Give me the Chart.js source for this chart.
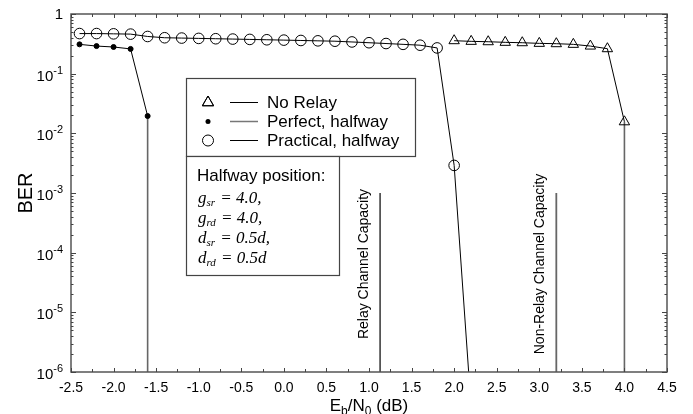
<!DOCTYPE html>
<html>
<head>
<meta charset="utf-8">
<script src="https://cdn.jsdelivr.net/npm/chart.js@4.4.0/dist/chart.umd.min.js"></script>
<style>
  html, body { margin: 0; padding: 0; background: #fff; }
</style>
</head>
<body>
<canvas id="ber-chart" width="693" height="414"></canvas>
<script>
// Dados (Eb/N0 em dB, BER)
const ebnoPractical = [-2.4, -2.2, -2.0, -1.8, -1.6, -1.4, -1.2, -1.0, -0.8, -0.6, -0.4, -0.2,
                       0.0, 0.2, 0.4, 0.6, 0.8, 1.0, 1.2, 1.4, 1.6, 1.8, 2.0, 2.2];
const berPractical = [0.47, 0.47, 0.465, 0.46, 0.42, 0.40, 0.395, 0.39, 0.385, 0.38, 0.375, 0.37,
                      0.365, 0.36, 0.355, 0.35, 0.34, 0.33, 0.32, 0.31, 0.30, 0.27, 0.0029, 2.5e-7];

const ebnoPerfect = [-2.4, -2.2, -2.0, -1.8, -1.6, -1.6];
const berPerfect = [0.31, 0.29, 0.28, 0.26, 0.0195, 1e-9];

const ebnoNoRelay = [2.0, 2.2, 2.4, 2.6, 2.8, 3.0, 3.2, 3.4, 3.6, 3.8, 4.0, 4.0];
const berNoRelay = [0.357, 0.348, 0.343, 0.335, 0.330, 0.322, 0.318, 0.31, 0.29, 0.262, 0.0156, 1e-9];

// Linhas de capacidade
const capacityLabels = ['Relay Channel Capacity', 'Non-Relay Channel Capacity'];
const capacityEbno = [1.13, 3.2];
const capacityBerTop = 1e-3;
const capacityBerBottom = 1e-6;

// Eixos
const xTickValues = [-2.5, -2.0, -1.5, -1.0, -0.5, 0.0, 0.5, 1.0, 1.5, 2.0, 2.5, 3.0, 3.5, 4.0, 4.5];
const yTickExponents = [0, -1, -2, -3, -4, -5, -6];

const legendLabels = ['No Relay', 'Perfect, halfway', 'Practical, halfway'];
const positionLines = [
    ['g', 'sr', ' = 4.0,'],
    ['g', 'rd', ' = 4.0,'],
    ['d', 'sr', ' = 0.5d,'],
    ['d', 'rd', ' = 0.5d']
];

function toPoints(xs, ys) {
    return xs.map((x, i) => ({ x: x, y: ys[i] }));
}

// segmento vertical final em cinza
const verticalSegment = {
    borderColor: ctx => (ctx.p0.parsed.x === ctx.p1.parsed.x ? '#666' : undefined),
    borderWidth: ctx => (ctx.p0.parsed.x === ctx.p1.parsed.x ? 1.6 : undefined)
};

const datasets = [
    {
        label: 'No Relay',
        data: toPoints(ebnoNoRelay, berNoRelay),
        borderColor: '#000',
        borderWidth: 1,
        pointStyle: 'triangle',
        pointRadius: ctx => (ctx.raw && ctx.raw.y < 1e-6 ? 0 : 6),
        pointBorderColor: '#000',
        pointBackgroundColor: 'rgba(0,0,0,0)',
        pointBorderWidth: 1,
        segment: verticalSegment
    },
    {
        label: 'Perfect, halfway',
        data: toPoints(ebnoPerfect, berPerfect),
        borderColor: '#000',
        borderWidth: 1,
        pointStyle: 'circle',
        pointRadius: ctx => (ctx.raw && ctx.raw.y < 1e-6 ? 0 : 2.5),
        pointBorderColor: '#000',
        pointBackgroundColor: '#000',
        segment: verticalSegment
    },
    {
        label: 'Practical, halfway',
        data: toPoints(ebnoPractical, berPractical),
        borderColor: '#000',
        borderWidth: 1,
        pointStyle: 'circle',
        pointRadius: ctx => (ctx.raw && ctx.raw.y < 1e-6 ? 0 : 5.3),
        pointBorderColor: '#000',
        pointBackgroundColor: 'rgba(0,0,0,0)',
        pointBorderWidth: 1
    }
];

capacityEbno.forEach((x, i) => {
    datasets.push({
        label: capacityLabels[i],
        data: [{ x: x, y: capacityBerBottom }, { x: x, y: capacityBerTop }],
        borderColor: i === 0 ? '#000' : '#666',
        borderWidth: i === 0 ? 1.2 : 1.8,
        pointRadius: 0
    });
});

// Desenho do quadro, marcas, rótulos, legenda e caixa de texto
const framePlugin = {
    id: 'framePlugin',
    afterDraw(chart) {
        const ctx = chart.ctx;
        const area = chart.chartArea;
        const xs = chart.scales.x;
        const ys = chart.scales.y;
        ctx.save();

        // quadro
        ctx.strokeStyle = '#555';
        ctx.lineWidth = 1.5;
        ctx.strokeRect(area.left, area.top, area.right - area.left, area.bottom - area.top);

        // marcas do eixo x (a cada 0.25)
        ctx.lineWidth = 1;
        ctx.strokeStyle = '#444';
        for (let k = 0; k <= 28; k++) {
            const v = -2.5 + k * 0.25;
            const px = Math.round(xs.getPixelForValue(v)) + 0.5;
            const len = k % 2 === 0 ? 4 : 3;
            ctx.beginPath();
            ctx.moveTo(px, area.bottom); ctx.lineTo(px, area.bottom - len);
            ctx.moveTo(px, area.top); ctx.lineTo(px, area.top + len);
            ctx.stroke();
        }

        // marcas do eixo y (log)
        for (let e = -6; e <= 0; e++) {
            for (let m = 1; m <= 9; m++) {
                const v = m * Math.pow(10, e);
                if (v > 1.0001) continue;
                const py = Math.round(ys.getPixelForValue(v)) + 0.5;
                const len = m === 1 ? 5 : 2.5;
                ctx.beginPath();
                ctx.moveTo(area.left, py); ctx.lineTo(area.left + len, py);
                ctx.moveTo(area.right, py); ctx.lineTo(area.right - len, py);
                ctx.stroke();
            }
        }

        // rótulos do eixo x
        ctx.fillStyle = '#000';
        ctx.font = '14px "Liberation Sans", Arial, sans-serif';
        ctx.textAlign = 'center';
        ctx.textBaseline = 'middle';
        xTickValues.forEach(v => {
            ctx.fillText(v.toFixed(1), xs.getPixelForValue(v), area.bottom + 16);
        });

        // rótulos do eixo y
        const labelRight = area.left - 8;
        yTickExponents.forEach(e => {
            const py = ys.getPixelForValue(Math.pow(10, e));
            if (e === 0) {
                ctx.font = '15px "Liberation Sans", Arial, sans-serif';
                ctx.textAlign = 'right';
                ctx.fillText('1', labelRight, py + 1);
                return;
            }
            const sup = String(e);
            ctx.font = '11px "Liberation Sans", Arial, sans-serif';
            const supW = ctx.measureText(sup).width;
            ctx.textAlign = 'left';
            ctx.fillText(sup, labelRight - supW, py - 3);
            ctx.font = '15px "Liberation Sans", Arial, sans-serif';
            ctx.textAlign = 'right';
            ctx.fillText('10', labelRight - supW, py + 3);
        });

        // título do eixo y
        ctx.save();
        ctx.translate(26, (area.top + area.bottom) / 2);
        ctx.rotate(-Math.PI / 2);
        ctx.font = '20px "Liberation Sans", Arial, sans-serif';
        ctx.textAlign = 'center';
        ctx.textBaseline = 'middle';
        ctx.fillText('BER', 0, 0);
        ctx.restore();

        // título do eixo x: Eb/N0 (dB)
        const parts = [['E', 17, 0], ['b', 12, 4], ['/N', 17, 0], ['0', 12, 4], [' (dB)', 17, 0]];
        let totalW = 0;
        parts.forEach(p => {
            ctx.font = p[1] + 'px "Liberation Sans", Arial, sans-serif';
            totalW += ctx.measureText(p[0]).width;
        });
        let cx = (area.left + area.right) / 2 - totalW / 2;
        ctx.textAlign = 'left';
        ctx.textBaseline = 'alphabetic';
        parts.forEach(p => {
            ctx.font = p[1] + 'px "Liberation Sans", Arial, sans-serif';
            ctx.fillText(p[0], cx, 411 + p[2]);
            cx += ctx.measureText(p[0]).width;
        });

        // textos das linhas de capacidade
        ctx.font = '14px "Liberation Sans", Arial, sans-serif';
        ctx.textAlign = 'center';
        ctx.textBaseline = 'middle';
        capacityEbno.forEach((x, i) => {
            ctx.save();
            ctx.translate(xs.getPixelForValue(x) - 16, 264);
            ctx.rotate(-Math.PI / 2);
            ctx.fillText(capacityLabels[i], 0, 0);
            ctx.restore();
        });

        // caixa da legenda
        ctx.fillStyle = '#fff';
        ctx.fillRect(186, 78, 229, 78);
        ctx.strokeStyle = '#444';
        ctx.lineWidth = 1.2;
        ctx.strokeRect(186.5, 78.5, 229, 78);
        const rowsY = [102.5, 121.5, 140.5];
        rowsY.forEach((ry, i) => {
            ctx.strokeStyle = '#000';
            ctx.lineWidth = 1;
            if (i === 0) {
                Chart.helpers.drawPoint(ctx, { pointStyle: 'triangle', radius: 6.5, borderWidth: 1 }, 208, ry);
                ctx.stroke();
            } else if (i === 1) {
                ctx.fillStyle = '#000';
                ctx.beginPath(); ctx.arc(208, ry, 2.5, 0, Math.PI * 2); ctx.fill();
            } else {
                ctx.beginPath(); ctx.arc(208, ry, 5.5, 0, Math.PI * 2); ctx.stroke();
            }
            ctx.strokeStyle = i === 1 ? '#777' : '#000';
            ctx.lineWidth = i === 1 ? 1.5 : 1;
            ctx.beginPath(); ctx.moveTo(230, ry); ctx.lineTo(258, ry); ctx.stroke();
            ctx.fillStyle = '#000';
            ctx.font = '17px "Liberation Sans", Arial, sans-serif';
            ctx.textAlign = 'left';
            ctx.textBaseline = 'middle';
            ctx.fillText(legendLabels[i], 267, ry + 1);
        });

        // caixa "Halfway position"
        ctx.fillStyle = '#fff';
        ctx.fillRect(186, 156, 153, 119);
        ctx.strokeStyle = '#444';
        ctx.lineWidth = 1.2;
        ctx.strokeRect(186.5, 156.5, 153, 119);
        ctx.fillStyle = '#000';
        ctx.font = '17px "Liberation Sans", Arial, sans-serif';
        ctx.textAlign = 'left';
        ctx.textBaseline = 'middle';
        ctx.fillText('Halfway position:', 197, 176);
        ctx.textBaseline = 'alphabetic';
        positionLines.forEach((ln, i) => {
            const by = 203 + i * 20;
            let lx = 198;
            ctx.font = 'italic 17px "Liberation Serif", "Times New Roman", serif';
            ctx.fillText(ln[0], lx, by);
            lx += ctx.measureText(ln[0]).width;
            ctx.font = 'italic 11px "Liberation Serif", "Times New Roman", serif';
            ctx.fillText(ln[1], lx, by + 3);
            lx += ctx.measureText(ln[1]).width + 1;
            ctx.font = 'italic 17px "Liberation Serif", "Times New Roman", serif';
            ctx.fillText(ln[2], lx, by);
        });

        ctx.restore();
    }
};

const chart = new Chart(document.getElementById('ber-chart').getContext('2d'), {
    type: 'line',
    data: { datasets: datasets },
    options: {
        responsive: false,
        animation: false,
        layout: { padding: { left: 71, right: 26, top: 14, bottom: 42 } },
        plugins: {
            legend: { display: false },
            tooltip: { enabled: false }
        },
        scales: {
            x: { type: 'linear', min: -2.5, max: 4.5, display: false },
            y: { type: 'logarithmic', min: 1e-6, max: 1, display: false }
        }
    },
    plugins: [framePlugin]
});
</script>
</body>
</html>
